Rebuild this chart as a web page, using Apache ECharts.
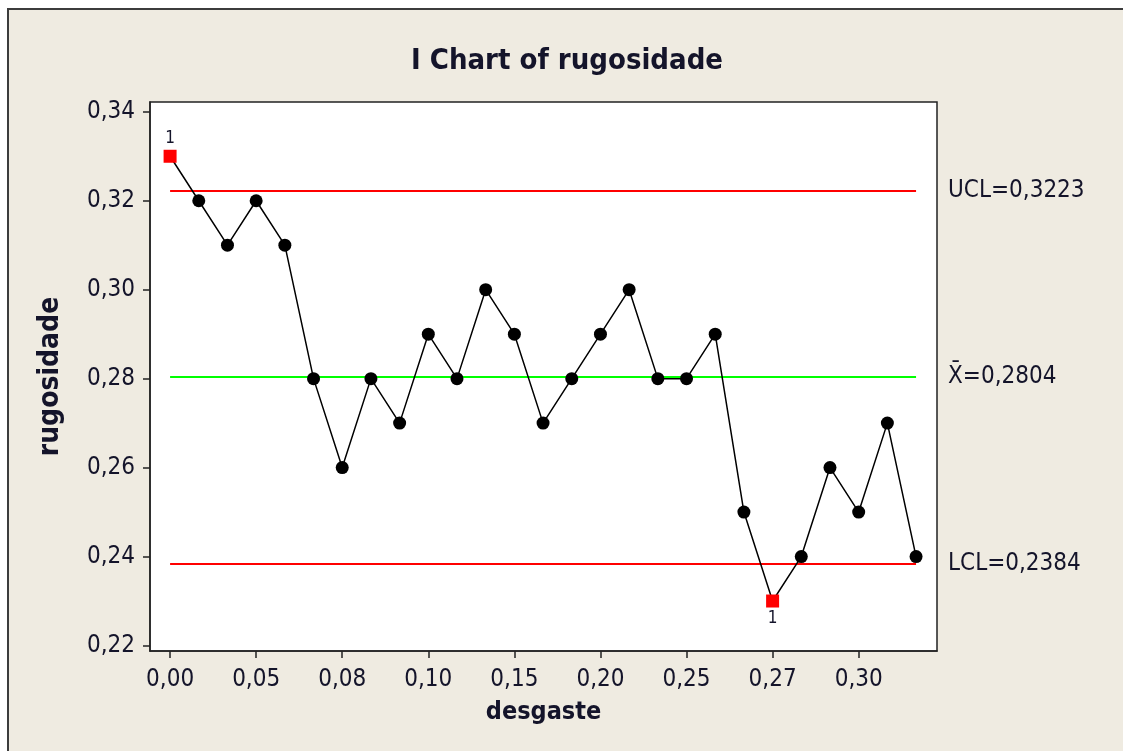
<!DOCTYPE html>
<html>
<head>
<meta charset="utf-8">
<script src="https://cdn.jsdelivr.net/npm/echarts@6/dist/echarts.min.js"></script>
<style>
html,body{margin:0;padding:0;background:#ffffff;}
#chart{width:1123px;height:751px;}
</style>
</head>
<body>
<div id="chart"></div>
<script>
// Observations (index order) and the x tick labels shown every 3rd observation
const xTickPositions = [0, 3, 6, 9, 12, 15, 18, 21, 24];
const xTickLabels = ['0,00', '0,05', '0,08', '0,10', '0,15', '0,20', '0,25', '0,27', '0,30'];
const rugosidade = [0.33, 0.32, 0.31, 0.32, 0.31, 0.28, 0.26, 0.28, 0.27, 0.29, 0.28, 0.30, 0.29, 0.27,
                    0.28, 0.29, 0.30, 0.28, 0.28, 0.29, 0.25, 0.23, 0.24, 0.26, 0.25, 0.27, 0.24];
const yTicks = [0.22, 0.24, 0.26, 0.28, 0.30, 0.32, 0.34];
const UCL = 0.3223;
const CL = 0.2804;
const LCL = 0.2384;
const limitLabels = ['UCL=0,3223', 'X\u0304=0,2804', 'LCL=0,2384'];

const FONT = "'DejaVu Sans Condensed', 'Liberation Sans', sans-serif";
const TXT = '#14142a';
const n = rugosidade.length;

const pointData = rugosidade.map((v, i) => {
  const out = v > UCL || v < LCL;
  if (!out) return [i, v];
  return {
    value: [i, v],
    symbol: 'rect',
    symbolSize: 13,
    itemStyle: { color: '#ff0000' },
    label: {
      show: true, formatter: '1', position: v > UCL ? 'top' : 'bottom', distance: 3,
      fontFamily: FONT, fontSize: 17, color: TXT
    }
  };
});

function limitLine(val, color, text) {
  return [{ coord: [0, val], lineStyle: { color: color, width: 2, type: 'solid' },
            label: { formatter: text } },
          { coord: [n - 1, val] }];
}

const chart = echarts.init(document.getElementById('chart'), null, { renderer: 'canvas' });
chart.setOption({
  animation: false,
  backgroundColor: '#ffffff',
  graphic: [{
    type: 'rect', z: -10, silent: true,
    shape: { x: 8, y: 9, width: 1200, height: 800 },
    style: { fill: '#efebe1', stroke: '#3c3c3c', lineWidth: 2 }
  }],
  title: {
    text: 'I Chart of rugosidade',
    left: 567, top: 47, textAlign: 'center', padding: 0,
    textStyle: { fontFamily: FONT, fontWeight: 'bold', fontSize: 29, color: TXT }
  },
  grid: {
    left: 150, right: 186, top: 102, bottom: 100,
    show: true, backgroundColor: '#ffffff', borderColor: '#222222', borderWidth: 1.5
  },
  xAxis: {
    type: 'value', min: -0.7, max: 26.73,
    name: 'desgaste', nameLocation: 'middle', nameGap: 49,
    nameTextStyle: { fontFamily: FONT, fontWeight: 'bold', fontSize: 25, color: TXT },
    axisLine: { show: true, onZero: false, lineStyle: { color: '#222222', width: 1.5 } },
    axisTick: { show: true, length: 7, customValues: xTickPositions, lineStyle: { color: '#222222', width: 1.5 } },
    axisLabel: {
      customValues: xTickPositions, margin: 17,
      formatter: v => xTickLabels[xTickPositions.indexOf(Math.round(v))],
      fontFamily: FONT, fontSize: 24, color: TXT
    },
    splitLine: { show: false }
  },
  yAxis: {
    type: 'value', min: 0.21876, max: 0.3422,
    name: 'rugosidade', nameLocation: 'middle', nameGap: 85,
    nameTextStyle: { fontFamily: FONT, fontWeight: 'bold', fontSize: 28, color: TXT },
    axisLine: { show: true, onZero: false, lineStyle: { color: '#222222', width: 1.5 } },
    axisTick: { show: true, length: 7, customValues: yTicks, lineStyle: { color: '#222222', width: 1.5 } },
    axisLabel: {
      customValues: yTicks, margin: 15,
      formatter: v => v.toFixed(2).replace('.', ','),
      fontFamily: FONT, fontSize: 24, color: TXT
    },
    splitLine: { show: false }
  },
  series: [{
    type: 'line',
    data: pointData,
    symbol: 'circle',
    symbolSize: 13,
    showAllSymbol: true,
    lineStyle: { color: '#000000', width: 1.5 },
    itemStyle: { color: '#000000' },
    z: 5,
    markLine: {
      silent: true,
      symbol: ['none', 'none'],
      z: 3,
      label: { show: true, position: 'end', distance: 32, fontFamily: FONT, fontSize: 24, color: TXT },
      data: [
        limitLine(UCL, '#ff0000', limitLabels[0]),
        limitLine(CL, '#00ff00', limitLabels[1]),
        limitLine(LCL, '#ff0000', limitLabels[2])
      ]
    }
  }]
});
</script>
</body>
</html>
